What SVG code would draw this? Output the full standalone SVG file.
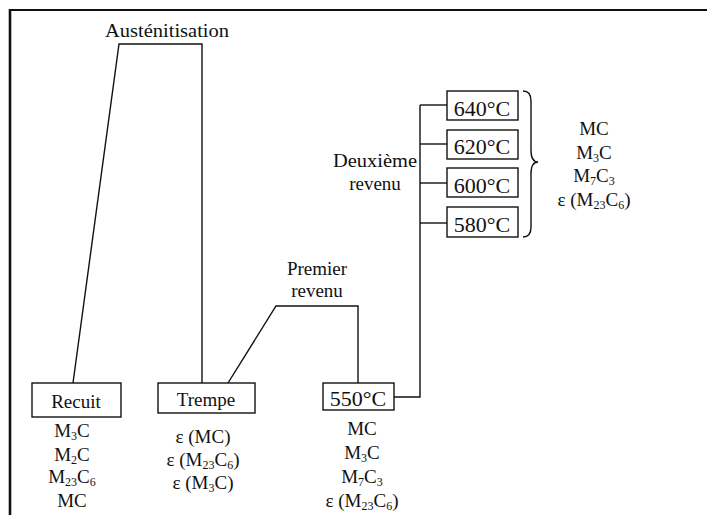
<svg xmlns="http://www.w3.org/2000/svg" width="707" height="515" viewBox="0 0 707 515">
<style>
text{font-family:"Liberation Serif","Times New Roman",serif;fill:#111;}
.t{font-size:19px;text-anchor:middle;}
.b{font-size:22px;text-anchor:middle;}
.s{font-size:12px;}
.ln{fill:none;stroke:#111;stroke-width:1.4;}
.box{fill:#fff;stroke:#111;stroke-width:1.4;}
</style>
<rect x="0" y="0" width="707" height="515" fill="#fff"/>
<g id="frame">
<line x1="9" y1="10" x2="707" y2="10" stroke="#111" stroke-width="2.2"/>
<line x1="10" y1="9" x2="10" y2="515" stroke="#111" stroke-width="2.6"/>
</g>
<g id="connectors">
<polyline class="ln" points="73,383 119,44 202,44 202,383"/>
<polyline class="ln" points="228,383 276,306 358,306 358,383"/>
<polyline class="ln" points="394,397 420,397 420,105"/>
<line class="ln" x1="420" y1="105" x2="447" y2="105"/>
<line class="ln" x1="420" y1="144" x2="447" y2="144"/>
<line class="ln" x1="420" y1="183" x2="447" y2="183"/>
<line class="ln" x1="420" y1="223" x2="447" y2="223"/>
<path class="ln" d="M523,91 Q531,91 531,101 L531,150 Q531,162 538,162 Q531,162 531,174 L531,227 Q531,237 523,237"/>
</g>
<g id="austenitisation">
<text x="167" y="37" class="t" textLength="124" lengthAdjust="spacingAndGlyphs">Austénitisation</text>
</g>
<g id="premier">
<text x="317" y="275" class="t">Premier</text>
<text x="317" y="297" class="t">revenu</text>
</g>
<g id="deuxieme">
<text x="375" y="167" class="t" textLength="84" lengthAdjust="spacingAndGlyphs">Deuxième</text>
<text x="375" y="190" class="t">revenu</text>
</g>
<g id="recuit">
<rect class="box" x="32" y="383" width="89" height="34"/>
<text x="76" y="408" class="t">Recuit</text>
<text x="72" y="437" class="t">M<tspan class="s" dy="3">3</tspan><tspan dy="-3">C</tspan></text>
<text x="72" y="461" class="t">M<tspan class="s" dy="3">2</tspan><tspan dy="-3">C</tspan></text>
<text x="72" y="483" class="t">M<tspan class="s" dy="3">23</tspan><tspan dy="-3">C</tspan><tspan class="s" dy="3">6</tspan></text>
<text x="72" y="507" class="t">MC</text>
</g>
<g id="trempe">
<rect class="box" x="158" y="383" width="97" height="30"/>
<text x="206" y="406" class="t">Trempe</text>
<text x="203" y="443" class="t">ε (MC)</text>
<text x="203" y="466" class="t">ε (M<tspan class="s" dy="3">23</tspan><tspan dy="-3">C</tspan><tspan class="s" dy="3">6</tspan><tspan dy="-3">)</tspan></text>
<text x="203" y="489" class="t">ε (M<tspan class="s" dy="3">3</tspan><tspan dy="-3">C)</tspan></text>
</g>
<g id="t550">
<rect class="box" x="323" y="383" width="71" height="27"/>
<text x="358" y="406" class="b">550°C</text>
<text x="362" y="435" class="t">MC</text>
<text x="362" y="459" class="t">M<tspan class="s" dy="3">3</tspan><tspan dy="-3">C</tspan></text>
<text x="362" y="483" class="t">M<tspan class="s" dy="3">7</tspan><tspan dy="-3">C</tspan><tspan class="s" dy="3">3</tspan></text>
<text x="362" y="507" class="t">ε (M<tspan class="s" dy="3">23</tspan><tspan dy="-3">C</tspan><tspan class="s" dy="3">6</tspan><tspan dy="-3">)</tspan></text>
</g>
<g id="t640">
<rect class="box" x="447" y="91" width="71" height="29"/>
<text x="482" y="116" class="b">640°C</text>
</g>
<g id="t620">
<rect class="box" x="447" y="130" width="71" height="29"/>
<text x="482" y="154" class="b">620°C</text>
</g>
<g id="t600">
<rect class="box" x="447" y="168" width="71" height="29"/>
<text x="482" y="193" class="b">600°C</text>
</g>
<g id="t580">
<rect class="box" x="447" y="207" width="71" height="30"/>
<text x="482" y="232" class="b">580°C</text>
</g>
<g id="phases2">
<text x="594" y="135" class="t">MC</text>
<text x="594" y="159" class="t">M<tspan class="s" dy="3">3</tspan><tspan dy="-3">C</tspan></text>
<text x="594" y="182" class="t">M<tspan class="s" dy="3">7</tspan><tspan dy="-3">C</tspan><tspan class="s" dy="3">3</tspan></text>
<text x="594" y="206" class="t">ε (M<tspan class="s" dy="3">23</tspan><tspan dy="-3">C</tspan><tspan class="s" dy="3">6</tspan><tspan dy="-3">)</tspan></text>
</g>
</svg>
